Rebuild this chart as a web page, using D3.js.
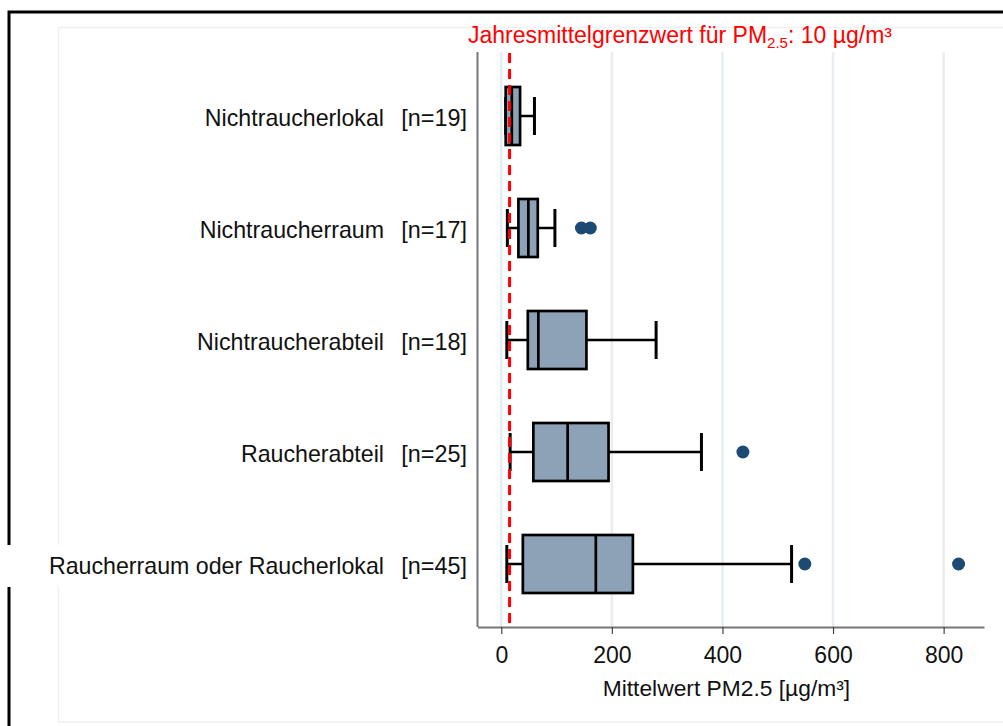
<!DOCTYPE html>
<html>
<head>
<meta charset="utf-8">
<script src="https://cdn.jsdelivr.net/npm/d3@7"></script>
<style>
  html, body { margin: 0; padding: 0; background: #fff; }
  svg { display: block; font-family: "Liberation Sans", Arial, sans-serif; }
</style>
</head>
<body>
<svg id="chart" width="1003" height="726"></svg>
<script>
// ---- data ----
const categories = ["Nichtraucherlokal", "Nichtraucherraum", "Nichtraucherabteil", "Raucherabteil", "Raucherraum oder Raucherlokal"];
const counts = ["[n=19]", "[n=17]", "[n=18]", "[n=25]", "[n=45]"];
const whiskerLow  = [8, 11, 10, 16, 10];
const q1          = [8, 31, 48, 58, 39];
const medians     = [19, 49, 67, 120, 171];
const q3          = [34, 66, 154, 194, 238];
const whiskerHigh = [60, 97, 280, 362, 525];
const outliers    = [[], [145, 161], [], [437], [549, 827]];
const xTicks = [0, 200, 400, 600, 800];
const limitValue = 15;
const titleParts = ["Jahresmittelgrenzwert für PM", "2.5", ": 10 µg/m³"];
const xTitle = "Mittelwert PM2.5 [µg/m³]";

const rows = categories.map((c, i) => ({
  cat: c, n: counts[i], lo: whiskerLow[i], q1: q1[i], med: medians[i],
  q3: q3[i], hi: whiskerHigh[i], out: outliers[i]
}));

const svg = d3.select("#chart");
const W = 1003, H = 726;
const plot = { left: 477.5, right: 984, top: 52, bottom: 627 };

// frame decorations
svg.append("rect").attr("x", 58.5).attr("y", 27.5).attr("width", 1000).attr("height", 694.5)
  .attr("fill", "none").attr("stroke", "#edf1f1").attr("stroke-width", 1.5);
svg.append("path").attr("d", `M9,${H + 5} V12 H${W + 5}`)
  .attr("fill", "none").attr("stroke", "#000").attr("stroke-width", 3);

const x = d3.scaleLinear().domain([-43, 873]).range([plot.left, plot.right]);
const y = d3.scalePoint().domain(categories).range([116, 564]);
const boxH = 58, capH = 38;

// gridlines
svg.append("g").selectAll("line").data(xTicks).join("line")
  .attr("x1", d => x(d)).attr("x2", d => x(d))
  .attr("y1", plot.top).attr("y2", plot.bottom)
  .attr("stroke", "#e7eef1").attr("stroke-width", 2.5);

// y axis line
svg.append("line").attr("x1", plot.left).attr("x2", plot.left)
  .attr("y1", plot.top).attr("y2", plot.bottom)
  .attr("stroke", "#777").attr("stroke-width", 2);

// x axis
const xAxis = svg.append("g").attr("transform", `translate(0,${plot.bottom})`)
  .call(d3.axisBottom(x).tickValues(xTicks).tickSize(7).tickSizeOuter(0).tickPadding(13));
xAxis.select(".domain").attr("stroke", "#777").attr("stroke-width", 2);
xAxis.selectAll(".tick line").attr("stroke", "#444").attr("stroke-width", 1.2);
xAxis.selectAll(".tick text").attr("font-size", 23).attr("fill", "#111")
  .attr("font-family", "'Liberation Sans', Arial, sans-serif");

// x title
svg.append("text").attr("x", (x(0) + x(800)) / 2 + 4).attr("y", 696)
  .attr("text-anchor", "middle").attr("font-size", 22.8).attr("fill", "#111").text(xTitle);

// category labels
svg.append("rect")
  .attr("x", 7).attr("y", y(categories[4]) - 19).attr("width", 380).attr("height", 42).attr("fill", "#fff");

svg.append("g").selectAll("text").data(rows).join("text")
  .attr("x", 384).attr("y", d => y(d.cat)).attr("dy", "0.42em")
  .attr("text-anchor", "end").attr("font-size", 23.2).attr("fill", "#111").text(d => d.cat);
svg.append("g").selectAll("text").data(rows).join("text")
  .attr("x", 467).attr("y", d => y(d.cat)).attr("dy", "0.42em")
  .attr("text-anchor", "end").attr("font-size", 23.4).attr("fill", "#111").text(d => d.n);

// boxes
const g = svg.append("g").selectAll("g").data(rows).join("g");
g.append("line").attr("x1", d => x(d.lo)).attr("x2", d => x(d.q1))
  .attr("y1", d => y(d.cat)).attr("y2", d => y(d.cat)).attr("stroke", "#000").attr("stroke-width", 2.5);
g.append("line").attr("x1", d => x(d.q3)).attr("x2", d => x(d.hi))
  .attr("y1", d => y(d.cat)).attr("y2", d => y(d.cat)).attr("stroke", "#000").attr("stroke-width", 2.5);
g.append("line").attr("x1", d => x(d.lo)).attr("x2", d => x(d.lo))
  .attr("y1", d => y(d.cat) - capH / 2).attr("y2", d => y(d.cat) + capH / 2)
  .attr("stroke", "#000").attr("stroke-width", 3);
g.append("line").attr("x1", d => x(d.hi)).attr("x2", d => x(d.hi))
  .attr("y1", d => y(d.cat) - capH / 2).attr("y2", d => y(d.cat) + capH / 2)
  .attr("stroke", "#000").attr("stroke-width", 3);
g.append("rect").attr("x", d => x(d.q1)).attr("width", d => x(d.q3) - x(d.q1))
  .attr("y", d => y(d.cat) - boxH / 2).attr("height", boxH)
  .attr("fill", "#8da2b6").attr("stroke", "#000").attr("stroke-width", 2.7);
g.append("line").attr("x1", d => x(d.med)).attr("x2", d => x(d.med))
  .attr("y1", d => y(d.cat) - boxH / 2).attr("y2", d => y(d.cat) + boxH / 2)
  .attr("stroke", "#000").attr("stroke-width", 2.7);
g.selectAll("circle").data(d => d.out.map(v => ({ v, cat: d.cat }))).join("circle")
  .attr("cx", d => x(d.v)).attr("cy", d => y(d.cat)).attr("r", 6.5).attr("fill", "#1d4a73");

// limit line
svg.append("line").attr("x1", x(limitValue)).attr("x2", x(limitValue))
  .attr("y1", plot.top + 1).attr("y2", plot.bottom)
  .attr("stroke", "#ff0000").attr("stroke-width", 3).attr("stroke-dasharray", "10,6");

// title
const t = svg.append("text").attr("x", 468).attr("y", 43).attr("font-size", 23).attr("fill", "#ff0000");
t.append("tspan").text(titleParts[0]);
t.append("tspan").attr("font-size", 15).attr("dy", 5).text(titleParts[1]);
t.append("tspan").attr("dy", -5).text(titleParts[2]);
</script>
</body>
</html>
